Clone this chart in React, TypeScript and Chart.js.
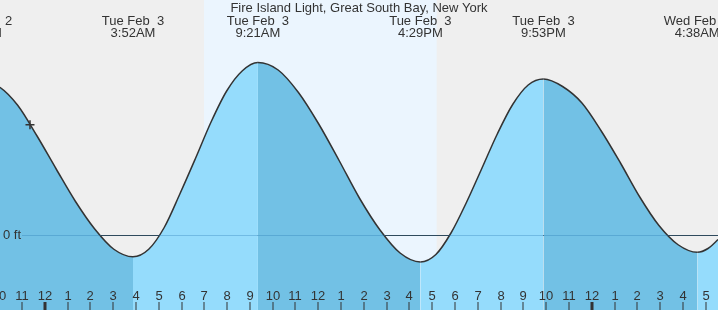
import { useEffect, useRef } from "react";
import { Chart, registerables } from "chart.js";

Chart.register(...registerables);

const TITLE = "Fire Island Light, Great South Bay, New York";

// hours since midnight (start of Tue Feb 3), tide height in feet
const tideHours = [
  -2.87, -1.97, -1.19, -0.34, 0.5, 1.34, 2.19, 3.03, 3.87,
  4.56, 5.24, 5.93, 6.61, 7.3, 7.98, 8.67, 9.35,
  10.24, 11.13, 12.02, 12.92, 13.81, 14.7, 15.59, 16.48,
  17.16, 17.83, 18.51, 19.18, 19.86, 20.53, 21.21, 21.88,
  22.72, 23.57, 24.41, 25.26, 26.1, 26.94, 27.79, 28.63,
  29.1, 29.54, 29.98,
];
const tideFeet = [
  2.07, 1.97, 1.73, 1.32, 0.88, 0.45, 0.08, -0.19, -0.29,
  -0.19, 0.1, 0.55, 1.02, 1.51, 1.92, 2.19, 2.3,
  2.2, 1.9, 1.48, 0.99, 0.49, 0.07, -0.24, -0.36,
  -0.26, 0.03, 0.44, 0.89, 1.35, 1.74, 2.0, 2.08,
  1.98, 1.76, 1.39, 0.96, 0.51, 0.13, -0.13, -0.23,
  -0.18, -0.06, 0.1,
];

// high / low tide labels
const extremeHours = [-2.87, 3.87, 9.35, 16.48, 21.88, 28.63];
const extremeDates = ["Mon Feb  2", "Tue Feb  3", "Tue Feb  3", "Tue Feb  3", "Tue Feb  3", "Wed Feb  4"];
const extremeTimes = ["9:08PM", "3:52AM", "9:21AM", "4:29PM", "9:53PM", "4:38AM"];

// hour ticks along the bottom
const tickHours = [
  -2, -1, 0, 1, 2, 3, 4, 5, 6, 7, 8, 9, 10, 11, 12, 13, 14, 15, 16, 17, 18, 19, 20, 21, 22, 23, 24,
  25, 26, 27, 28, 29,
];
const tickLabels = [
  "10", "11", "12", "1", "2", "3", "4", "5", "6", "7", "8", "9", "10", "11", "12", "1", "2", "3",
  "4", "5", "6", "7", "8", "9", "10", "11", "12", "1", "2", "3", "4", "5",
];
const midnightHours = [0, 24];

const sunriseHour = 6.985;
const sunsetHour = 17.196;

const markerHour = [-0.65];
const markerFeet = [1.47];

const X_MIN = -1.966;
const X_MAX = 29.54;
const Y_MIN = -1.0;
const Y_MAX = 3.1333;

const DARK_FILL = "#72c1e5";
const LIGHT_FILL = "#95dcfc";
const NIGHT_BG = "#efefef";
const DAY_BG = "#ebf5fe";
const TEXT = "#333333";
const FONT = '13px "Liberation Sans", Arial, sans-serif';

const tidePlugin = {
  id: "tideDecor",
  beforeDatasetsDraw(chart: any) {
    const { ctx, scales, width, height } = chart;
    const x = scales.x;
    const y = scales.y;
    ctx.save();
    ctx.fillStyle = NIGHT_BG;
    ctx.fillRect(0, 0, width, height);
    const sx = x.getPixelForValue(sunriseHour);
    const ex = x.getPixelForValue(sunsetHour);
    ctx.fillStyle = DAY_BG;
    ctx.fillRect(sx, 0, ex - sx, height);
    const zy = Math.round(y.getPixelForValue(0)) + 0.5;
    ctx.strokeStyle = "#333333";
    ctx.lineWidth = 1;
    ctx.beginPath();
    ctx.moveTo(22, zy);
    ctx.lineTo(width, zy);
    ctx.stroke();
    ctx.restore();
  },
  afterDatasetsDraw(chart: any) {
    const { ctx, scales, width, height } = chart;
    const x = scales.x;
    const y = scales.y;
    ctx.save();
    const zy = Math.round(y.getPixelForValue(0)) + 0.5;
    ctx.strokeStyle = "rgba(40,120,180,0.33)";
    ctx.lineWidth = 1;
    ctx.beginPath();
    ctx.moveTo(22, zy);
    ctx.lineTo(width, zy);
    ctx.stroke();

    ctx.fillStyle = TEXT;
    ctx.font = FONT;
    ctx.textBaseline = "middle";
    ctx.textAlign = "left";
    ctx.fillText("0 ft", 3, zy);

    // title
    ctx.textAlign = "center";
    ctx.textBaseline = "alphabetic";
    ctx.fillText(TITLE, width / 2, 12);

    // extreme labels
    extremeHours.forEach((h, i) => {
      const px = x.getPixelForValue(h);
      ctx.fillText(extremeDates[i], px, 25);
      ctx.fillText(extremeTimes[i], px, 37);
    });

    // bottom ticks
    tickHours.forEach((h, i) => {
      const px = Math.round(x.getPixelForValue(h));
      ctx.fillText(tickLabels[i], px, 300);
      const thick = midnightHours.includes(h);
      ctx.fillRect(thick ? px - 1.5 : px - 0.5, 302, thick ? 3 : 1, height - 302);
    });
    ctx.restore();
  },
};

export default function App() {
  const ref = useRef<HTMLCanvasElement | null>(null);

  useEffect(() => {
    document.body.style.margin = "0";
    const canvas = ref.current;
    if (!canvas) return;
    const chart = new Chart(canvas, {
      type: "line",
      data: {
        datasets: [
          {
            type: "scatter",
            data: markerHour.map((h, i) => ({ x: h, y: markerFeet[i] })),
            pointStyle: "cross",
            pointRadius: 4.5,
            borderColor: "#333333",
            borderWidth: 1.5,
            showLine: false,
            order: 0,
          } as any,
          {
            data: tideHours.map((h, i) => ({ x: h, y: tideFeet[i] })),
            borderColor: "#333333",
            borderWidth: 1.5,
            pointRadius: 0,
            fill: "start",
            backgroundColor: DARK_FILL,
            cubicInterpolationMode: "monotone",
            order: 1,
            segment: {
              backgroundColor: (c: any) => (c.p1.parsed.y > c.p0.parsed.y ? LIGHT_FILL : DARK_FILL),
            },
          } as any,
        ],
      },
      options: {
        animation: false,
        responsive: false,
        maintainAspectRatio: false,
        devicePixelRatio: 1,
        events: [],
        layout: { padding: 0, autoPadding: false },
        plugins: {
          legend: { display: false },
          tooltip: { enabled: false },
          title: { display: false },
        },
        scales: {
          x: { type: "linear", min: X_MIN, max: X_MAX, display: false },
          y: { type: "linear", min: Y_MIN, max: Y_MAX, display: false },
        },
      },
      plugins: [tidePlugin],
    });
    return () => chart.destroy();
  }, []);

  return (
    <div style={{ width: 718, height: 310 }}>
      <canvas ref={ref} width={718} height={310} style={{ display: "block" }} />
    </div>
  );
}
